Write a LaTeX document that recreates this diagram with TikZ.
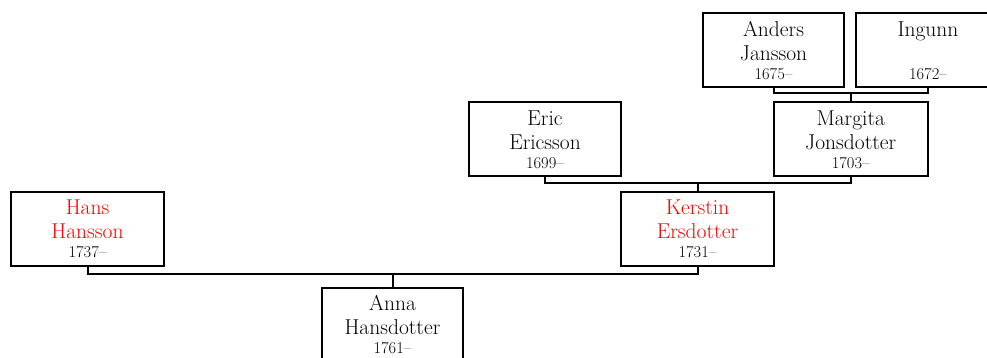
\documentclass[tikz,border=0pt]{standalone}
\usepackage{fontspec}
\usepackage{amsmath}
\newcommand{\yr}[1]{{\fontsize{16.5}{18}\selectfont\addfontfeatures{Numbers=OldStyle}#1}}

\begin{document}
\begin{tikzpicture}[x=1pt,y=-1pt,line width=2pt]
  \tikzstyle{person}=[draw,rectangle,minimum height=74pt,inner sep=0pt,align=center,
    font=\fontsize{21.5}{24}\selectfont]
  \clip (0,0) rectangle (987,358);
  \useasboundingbox (0,0) rectangle (987,358);
  \node[person,minimum width=141pt] (G_1) at (773.5,50.5) {Anders\\Jansson\\[-5pt]\yr{1675--}};
  \node[person,minimum width=144pt] (G_2) at (928,50.5)   {Ingunn\\ \\[-5pt]\yr{1672--}};
  \node[person,minimum width=152pt] (G_3) at (545,139.5)  {Eric\\Ericsson\\[-5pt]\yr{1699--}};
  \node[person,minimum width=154pt] (G_4) at (850.75,139.5) {Margita\\Jonsdotter\\[-5pt]\yr{1703--}};
  \node[person,minimum width=153pt] (G_5) at (87.5,229)   {\textcolor{red}{Hans}\\\textcolor{red}{Hansson}\\[-5pt]\yr{1737--}};
  \node[person,minimum width=153pt] (G_6) at (697.5,229)  {\textcolor{red}{Kerstin}\\\textcolor{red}{Ersdotter}\\[-5pt]\yr{1731--}};
  \node[person,minimum width=141pt] (G_7) at (392.5,324.5) {Anna\\Hansdotter\\[-5pt]\yr{1761--}};

  \coordinate (J_1) at (850.75,93);
  \coordinate (J_2) at (697.5,183);
  \coordinate (J_3) at (392.5,274);

  \draw (G_1.south) |- (J_1) -| (G_2.south);
  \draw (J_1) -- (G_4.north);
  \draw (G_3.south) |- (J_2) -| (G_4.south);
  \draw (J_2) -- (G_6.north);
  \draw (G_5.south) |- (J_3) -| (G_6.south);
  \draw (J_3) -- (G_7.north);
\end{tikzpicture}
\end{document}
